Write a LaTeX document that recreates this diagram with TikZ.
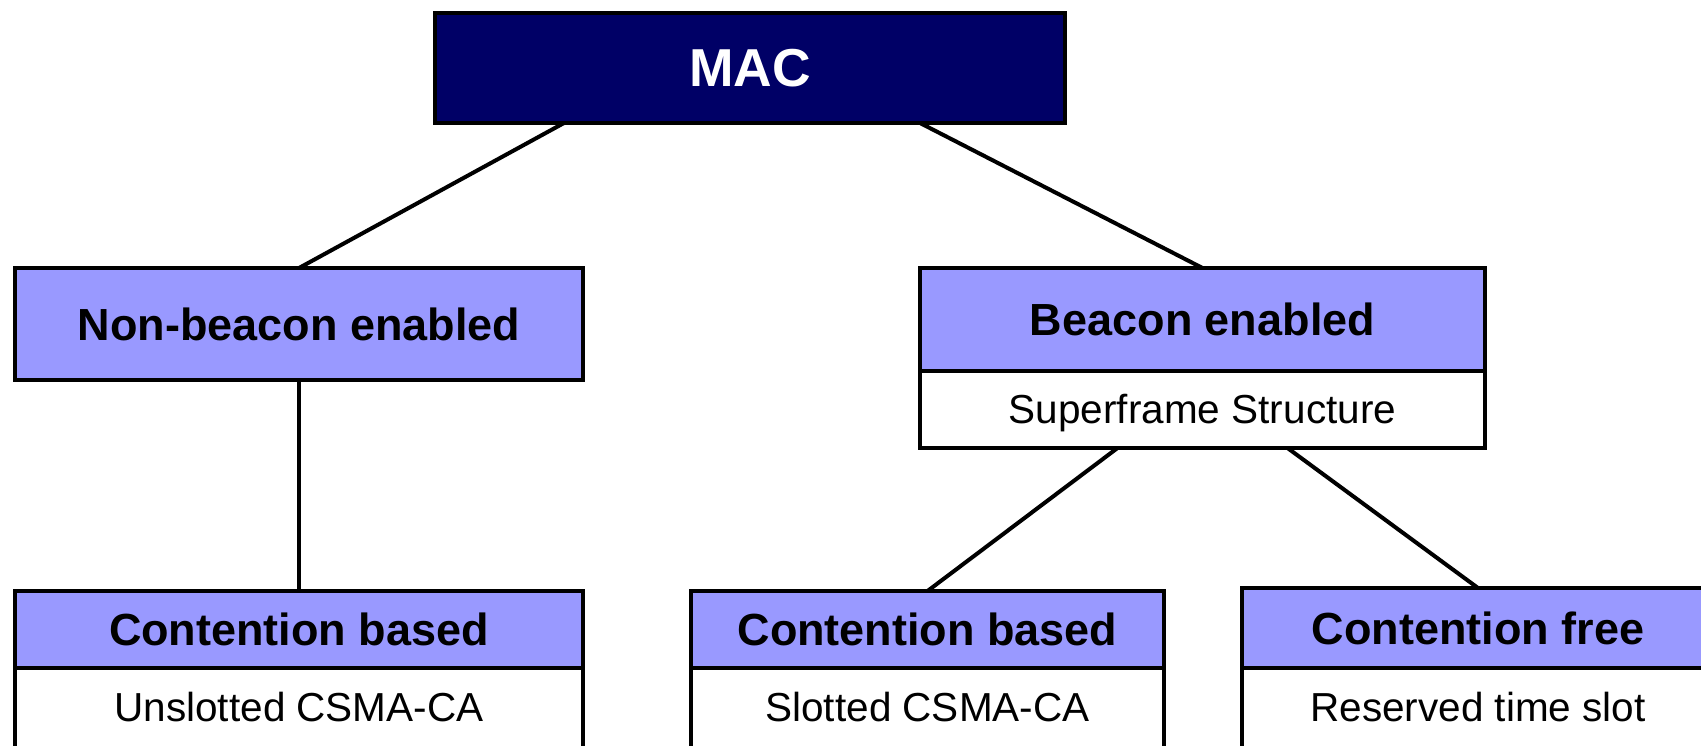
\documentclass[tikz,border=0pt]{standalone}
\usepackage{fontspec}
\setmainfont{Liberation Sans}
\usetikzlibrary{positioning}
\definecolor{macblue}{RGB}{0,0,102}
\definecolor{headblue}{RGB}{153,153,255}

\begin{document}
\begin{tikzpicture}[x=0.5pt, y=-0.5pt, line width=2pt,
        headbox/.style={rectangle, draw, fill=headblue, outer sep=0pt, inner sep=0pt,
            font=\fontsize{22.5}{27}\selectfont\bfseries},
        bodybox/.style={rectangle, draw, fill=white, outer sep=0pt, inner sep=0pt,
            font=\fontsize{20.25}{24}\selectfont}]
            \clip (0,0) rectangle (1701,745);
            \useasboundingbox (0,0) rectangle (1701,745);

            % Nodes
            \node (mac) [rectangle, draw, fill=macblue, text=white, outer sep=0pt,
                font=\fontsize{26.7}{32}\selectfont\bfseries,
                minimum width=315pt, minimum height=55pt] at (750, 68) {MAC};
            \node (nonbeacon) [headbox, minimum width=284pt, minimum height=56pt] at (299, 324) {Non-beacon enabled};
            \node (beacon) [headbox, minimum width=282.5pt, minimum height=51.5pt] at (1202.5, 319.5) {Beacon enabled};
            \node (superframe) [bodybox, minimum width=282.5pt, minimum height=38.5pt, text depth=1pt, below=0pt of beacon] {Superframe Structure};

            \node (cbleft) [headbox, minimum width=284pt, minimum height=38.5pt] at (299, 629.5) {Contention based};
            \node (unslotted) [bodybox, minimum width=284pt, minimum height=46pt, below=0pt of cbleft] {};
            \node at (299, 707) [font=\fontsize{20.25}{24}\selectfont] {Unslotted CSMA-CA};

            \node (cbmid) [headbox, minimum width=236.5pt, minimum height=38.5pt] at (927.5, 629.5) {Contention based};
            \node (slotted) [bodybox, minimum width=236.5pt, minimum height=46pt, below=0pt of cbmid] {};
            \node at (927.5, 707) [font=\fontsize{20.25}{24}\selectfont] {Slotted CSMA-CA};

            \node (cfree) [headbox, minimum width=236pt, minimum height=40pt] at (1478, 628) {Contention free};
            \node (reserved) [bodybox, minimum width=236pt, minimum height=46pt, below=0pt of cfree] {};
            \node at (1478, 707) [font=\fontsize{20.25}{24}\selectfont] {Reserved time slot};

            % Edges
            \draw ([xshift=-93pt]mac.south) -- (nonbeacon.north);
            \draw ([xshift=85pt]mac.south) -- (beacon.north);
            \draw (nonbeacon.south) -- (cbleft.north);
            \draw ([xshift=-42.5pt]superframe.south) -- (cbmid.north);
            \draw ([xshift=42.5pt]superframe.south) -- (cfree.north);

\end{tikzpicture}
\end{document}
